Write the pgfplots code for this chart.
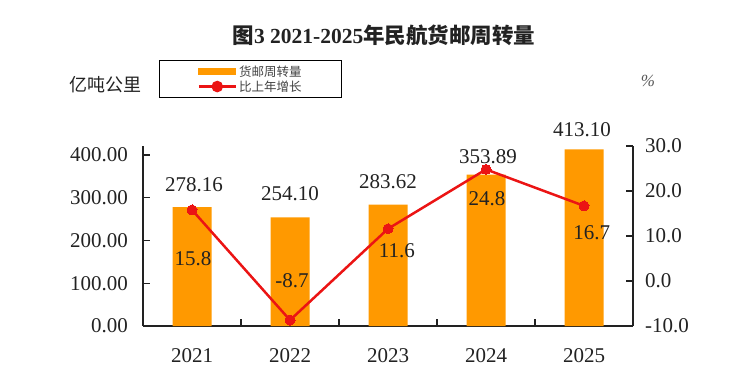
\documentclass[border=0pt]{standalone}
\usepackage{pgfplots}
\pgfplotsset{compat=1.18}
\usepackage{fontspec}
\setmainfont{Liberation Serif}
\newfontfamily\cjk{Noto Sans CJK SC}
\definecolor{barorange}{RGB}{255,153,0}
\definecolor{linered}{RGB}{235,20,20}
\definecolor{txt}{RGB}{34,34,34}
\begin{document}
\begin{tikzpicture}[x=1pt,y=1pt]
\path[use as bounding box] (0,0) rectangle (735,380);
\node[text=txt, inner sep=0pt] at (384,345) {\fontsize{21.5}{24}\selectfont{\cjk\bfseries 图}{\bfseries 3 2021-2025}{\cjk\bfseries 年民航货邮周转量}};
\node[text=txt, inner sep=0pt] at (105,295) {\cjk\fontsize{18}{20}\selectfont 亿吨公里};
\node[text=txt!75, inner sep=0pt] at (648,299) {\fontsize{17}{20}\selectfont\itshape\%};

\begin{axis}[at={(143pt,54pt)}, anchor=south west, width=490pt, height=180pt, scale only axis,
  xmin=-0.5, xmax=4.5, ymin=0, ymax=421,
  axis y line*=left, axis x line*=bottom,
  axis line style={draw=txt, line width=1.2pt, -},
  tick style={draw=txt, line width=1.2pt}, tick align=inside, major tick length=7pt,
  xtick={0.5,1.5,2.5,3.5}, xticklabels={},
  extra x ticks={0,1,2,3,4}, extra x tick labels={2021,2022,2023,2024,2025},
  extra x tick style={major tick length=0pt},
  xticklabel style={anchor=north, inner sep=0pt, yshift=-22pt, font=\fontsize{21}{24}\selectfont, text=txt},
  ytick={0,100,200,300,400}, yticklabels={0.00,100.00,200.00,300.00,400.00},
  yticklabel style={anchor=east, inner sep=0pt, xshift=-15pt, font=\fontsize{21}{24}\selectfont, text=txt},
  clip=false]
\addplot[ybar, bar width=39pt, bar shift=0pt, fill=barorange, draw=none] coordinates {(0,278.16) (1,254.10) (2,283.62) (3,353.89) (4,413.10)};
\begin{scope}[every node/.style={font=\fontsize{21}{24}\selectfont, text=txt, inner sep=0pt}]
\node at (axis cs:0.02,329.8) {278.16};
\node at (axis cs:1.0,308.8) {254.10};
\node at (axis cs:2.0,336.8) {283.62};
\node at (axis cs:3.02,395.3) {353.89};
\node at (axis cs:3.98,458.5) {413.10};
\end{scope}
\end{axis}

\begin{axis}[at={(143pt,54pt)}, anchor=south west, width=490pt, height=180pt, scale only axis,
  xmin=-0.5, xmax=4.5, ymin=-10, ymax=30,
  axis y line*=right, axis x line=none,
  axis line style={draw=txt, line width=1.2pt, -},
  tick style={draw=txt, line width=1.2pt}, tick align=inside, major tick length=7pt,
  ytick={-10,0,10,20,30}, yticklabels={-10.0,0.0,10.0,20.0,30.0},
  yticklabel style={anchor=west, inner sep=0pt, xshift=12pt, font=\fontsize{21}{24}\selectfont, text=txt},
  clip=false,
  legend style={at={(0.0327,1.478)}, anchor=north west, draw=black, line width=1pt,
    inner xsep=38pt, inner ysep=3pt, row sep=-1pt,
    font=\cjk\fontsize{12.5}{14}\selectfont, text=txt!85},
  legend cell align=left]
\addlegendimage{legend image code/.code={\fill[barorange] (0pt,-3pt) rectangle (37pt,3pt);}}
\addlegendentry{货邮周转量}
\addplot[linered, line width=2.5pt, mark=*, mark size=5pt,
  mark options={fill=linered, draw=linered, line width=0pt},
  legend image code/.code={\draw[linered,line width=2.5pt] (0pt,0pt)--(37pt,0pt); \fill[linered] (18.5pt,0pt) circle (4.5pt);}]
  coordinates {(0,15.8) (1,-8.7) (2,11.6) (3,24.8) (4,16.7)};
\addlegendentry{比上年增长}
\begin{scope}[every node/.style={font=\fontsize{21}{24}\selectfont, text=txt, inner sep=0pt}]
\node at (axis cs:0.01,5.0) {15.8};
\node at (axis cs:1.02,0.11) {-8.7};
\node at (axis cs:2.09,6.78) {11.6};
\node at (axis cs:3.01,18.33) {24.8};
\node at (axis cs:4.08,10.78) {16.7};
\end{scope}
\end{axis}
\end{tikzpicture}
\end{document}
